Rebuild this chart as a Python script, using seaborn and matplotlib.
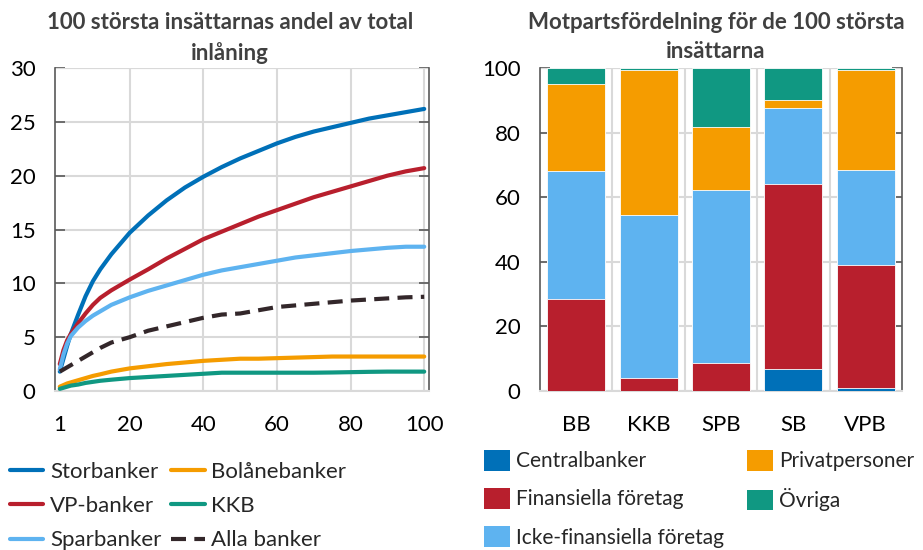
import numpy as np
import pandas as pd
import seaborn as sns
import matplotlib.pyplot as plt
from matplotlib.lines import Line2D
from matplotlib.patches import Patch

# --- left panel: share of total deposits held by the N largest depositors ---
n_depositors = [1, 2, 3, 4, 5, 6, 8, 10, 12, 15, 20, 25, 30, 35, 40, 45, 50, 55, 60, 65, 70, 75, 80, 85, 90, 95, 100]
storbanker = [1.8, 3.0, 4.2, 5.3, 6.2, 7.1, 8.8, 10.2, 11.3, 12.7, 14.7, 16.3, 17.7, 18.9, 19.9, 20.8, 21.6, 22.3, 23.0, 23.6, 24.1, 24.5, 24.9, 25.3, 25.6, 25.9, 26.2]
vp_banker = [2.5, 3.8, 4.7, 5.3, 5.8, 6.3, 7.2, 8.0, 8.65, 9.35, 10.35, 11.3, 12.3, 13.2, 14.1, 14.8, 15.5, 16.2, 16.8, 17.4, 18.0, 18.5, 19.0, 19.5, 20.0, 20.4, 20.7]
sparbanker = [2.0, 3.4, 4.4, 5.1, 5.5, 5.9, 6.5, 7.0, 7.4, 8.0, 8.7, 9.3, 9.8, 10.3, 10.8, 11.2, 11.5, 11.8, 12.1, 12.4, 12.6, 12.8, 13.0, 13.15, 13.3, 13.4, 13.4]
bolanebanker = [0.4, 0.55, 0.7, 0.8, 0.9, 1.0, 1.2, 1.4, 1.55, 1.8, 2.1, 2.3, 2.5, 2.65, 2.8, 2.9, 3.0, 3.0, 3.05, 3.1, 3.15, 3.2, 3.2, 3.2, 3.2, 3.2, 3.2]
kkb = [0.2, 0.3, 0.4, 0.5, 0.55, 0.6, 0.75, 0.85, 0.95, 1.05, 1.2, 1.3, 1.4, 1.5, 1.6, 1.7, 1.7, 1.7, 1.7, 1.7, 1.7, 1.72, 1.75, 1.78, 1.8, 1.8, 1.8]
alla_banker = [1.8, 2.0, 2.2, 2.4, 2.6, 2.8, 3.2, 3.6, 4.0, 4.5, 5.0, 5.6, 6.0, 6.4, 6.8, 7.1, 7.2, 7.5, 7.8, 7.95, 8.1, 8.25, 8.4, 8.5, 8.6, 8.7, 8.75]

# --- right panel: counterparty split of the 100 largest depositors ---
bank_groups = ['BB', 'KKB', 'SPB', 'SB', 'VPB']
centralbanker = [0.0, 0.0, 0.0, 6.8, 1.0]
finansiella = [28.5, 4.1, 8.7, 57.2, 38.0]
icke_finansiella = [39.6, 50.4, 53.5, 23.7, 29.3]
privatpersoner = [26.8, 44.9, 19.5, 2.4, 31.1]
ovriga = [5.1, 0.6, 18.3, 9.9, 0.6]

DARKBLUE = '#0070b8'
RED = '#b81f2d'
LIGHTBLUE = '#5eb3f0'
ORANGE = '#f59c00'
GREEN = '#109882'
DARK = '#33272a'
GRID = '#d9d9d9'
SPINE = '#595959'

sns.set_theme(style='white')
plt.rcParams['font.family'] = ['Lato', 'DejaVu Sans']

FS = 16

fig = plt.figure(figsize=(9.23, 5.5), dpi=100)
ax1 = fig.add_axes([55 / 923, 1 - 391 / 550, 374 / 923, 323 / 550])
ax2 = fig.add_axes([540 / 923, 1 - 391 / 550, 362 / 923, 323 / 550])

lines = [
    ('Storbanker', storbanker, DARKBLUE, '-'),
    ('VP-banker', vp_banker, RED, '-'),
    ('Sparbanker', sparbanker, LIGHTBLUE, '-'),
    ('Bolånebanker', bolanebanker, ORANGE, '-'),
    ('KKB', kkb, GREEN, '-'),
    ('Alla banker', alla_banker, DARK, (0, (3.6, 2.0))),
]
for name, vals, col, ls in lines:
    sns.lineplot(x=n_depositors, y=vals, ax=ax1, color=col, lw=3, linestyle=ls, zorder=3)

ax1.set_xlim(-0.3, 101.3)
ax1.set_ylim(0, 30)
ax1.set_xticks([1, 20, 40, 60, 80, 100])
ax1.set_yticks(range(0, 31, 5))

# stacked bars: draw cumulative totals from the top down
stack = [centralbanker, finansiella, icke_finansiella, privatpersoner, ovriga]
stack_colors = [DARKBLUE, RED, LIGHTBLUE, ORANGE, GREEN]
cum = np.cumsum(np.array(stack), axis=0)
for i in range(len(stack) - 1, -1, -1):
    sns.barplot(x=bank_groups, y=cum[i], ax=ax2, color=stack_colors[i], width=0.8,
                edgecolor='white', linewidth=0.6, saturation=1, zorder=3)

ax2.set_xlim(-0.5, 4.5)
ax2.set_ylim(0, 100)
ax2.set_yticks(range(0, 101, 20))
ax2.set_xticks([0.5, 1.5, 2.5, 3.5], minor=True)

for ax in (ax1, ax2):
    ax.set_xlabel('')
    ax.set_ylabel('')
    ax.set_axisbelow(True)
    ax.spines['top'].set_visible(False)
    ax.spines['bottom'].set_color(GRID)
    ax.spines['bottom'].set_linewidth(1.5)
    for s in ('left', 'right'):
        ax.spines[s].set_color(SPINE)
        ax.spines[s].set_linewidth(1.2)
    ax.tick_params(axis='y', which='major', direction='in', length=7, width=1.2,
                   color=SPINE, left=True, right=True, labelsize=FS, pad=14, labelcolor='black')
    ax.tick_params(axis='x', which='both', length=0, labelsize=FS, pad=17, labelcolor='black')
    ax.yaxis.grid(True, color=GRID, lw=1.5)
    # top gridline stands in for the top spine
    ax.axhline(ax.get_ylim()[1], color=GRID, lw=1.5, zorder=1)

ax1.xaxis.grid(True, color=GRID, lw=1.5)
ax1.get_xgridlines()[0].set_visible(False)
ax2.xaxis.grid(True, which='minor', color=GRID, lw=1.5)
ax2.xaxis.grid(False, which='major')

title_kw = dict(fontsize=16, fontweight='bold', color='#404040', ha='center', va='top',
                linespacing=1.5)
fig.text(230 / 923, 1 - 12 / 550, '100 största insättarnas andel av total\ninlåning', **title_kw)
fig.text(716 / 923, 1 - 12 / 550, 'Motpartsfördelning för de 100 största\ninsättarna', **title_kw)

# legends
line_handles = [Line2D([], [], color=c, lw=3, linestyle=ls) for _, _, c, ls in lines]
line_labels = [n for n, _, _, _ in lines]
fig.legend(line_handles, line_labels, ncol=2, loc='upper left',
           bbox_to_anchor=(10 / 923, 1 - 462 / 550), frameon=False, fontsize=FS,
           handlelength=1.5, handletextpad=0.3, columnspacing=0.45, labelspacing=0.64,
           borderpad=0, borderaxespad=0)

bar_labels = ['Centralbanker', 'Finansiella företag', 'Icke-finansiella företag',
              'Privatpersoner', 'Övriga']
bar_handles = [Patch(facecolor=c, edgecolor='none') for c in stack_colors]
fig.legend(bar_handles, bar_labels, ncol=2, loc='upper left',
           bbox_to_anchor=(484 / 923, 1 - 450 / 550), frameon=False, fontsize=15,
           handlelength=1.25, handleheight=1.15, handletextpad=0.3, columnspacing=1.1,
           labelspacing=0.8, borderpad=0, borderaxespad=0)

fig.savefig('out.png', dpi=100)
